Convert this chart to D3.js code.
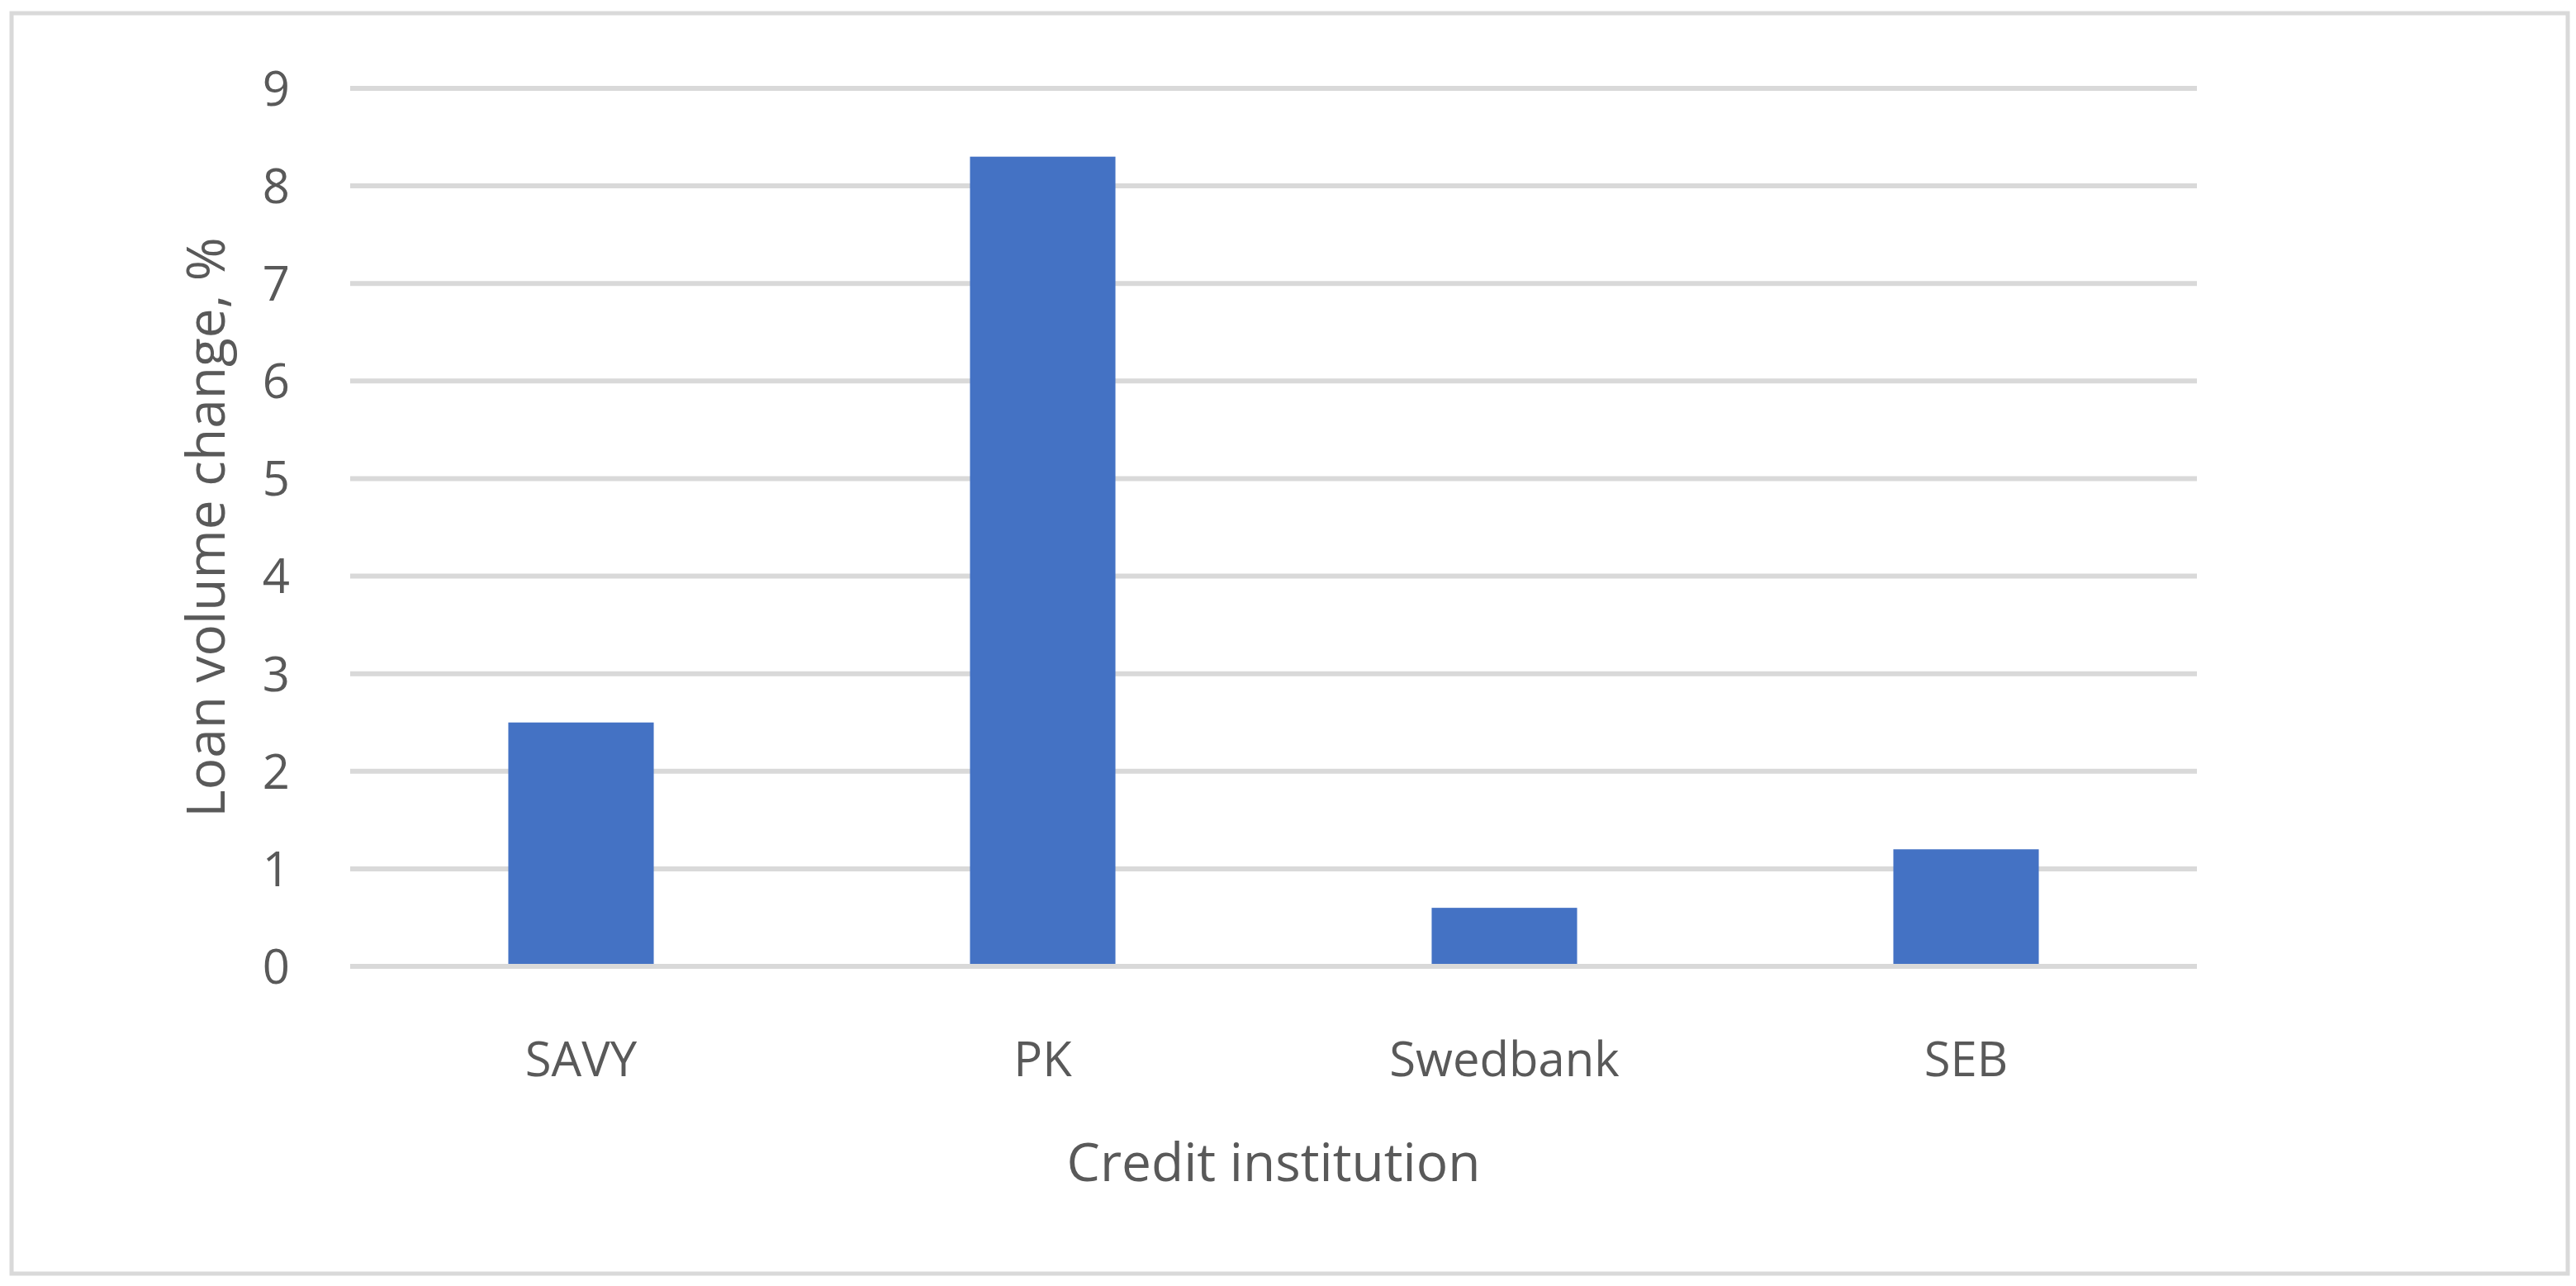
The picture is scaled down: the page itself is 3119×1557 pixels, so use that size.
<!DOCTYPE html>
<html>
<head>
<meta charset="utf-8">
<script src="https://cdn.jsdelivr.net/npm/d3@7"></script>
<style>
  body { margin: 0; background: #fff; }
  text { font-family: "Open Sans", sans-serif; fill: #595959; }
</style>
</head>
<body>
<svg id="chart" width="3119" height="1557"></svg>
<script>
// data
var categories = ['SAVY', 'PK', 'Swedbank', 'SEB'];
var values = [2.5, 8.3, 0.6, 1.2];
var yTicks = [0, 1, 2, 3, 4, 5, 6, 7, 8, 9];

var svg = d3.select('#chart');
var plotLeft = 424, plotRight = 2660, plotTop = 107, plotBottom = 1170;

svg.append('rect')
    .attr('x', 14).attr('y', 16)
    .attr('width', 3095).attr('height', 1526)
    .attr('fill', 'none').attr('stroke', '#d9d9d9').attr('stroke-width', 5);

var x = d3.scaleBand().domain(categories).range([plotLeft, plotRight]).paddingInner(0.685).paddingOuter(0.3425);
var y = d3.scaleLinear().domain([0, 9]).range([plotBottom, plotTop]);

// gridlines
svg.selectAll('line.grid')
    .data(yTicks)
  .enter().append('line').attr('class', 'grid')
    .attr('x1', plotLeft).attr('x2', plotRight)
    .attr('y1', function(d) { return y(d); })
    .attr('y2', function(d) { return y(d); })
    .attr('stroke', '#d9d9d9').attr('stroke-width', 6);

// bars
svg.selectAll('rect.bar')
    .data(values)
  .enter().append('rect').attr('class', 'bar')
    .attr('x', function(d, i) { return x(categories[i]); })
    .attr('width', x.bandwidth())
    .attr('y', function(d) { return y(d); })
    .attr('height', function(d) { return y(0) - y(d) - 3; })
    .attr('fill', '#4472c4');

// y tick labels
svg.selectAll('text.ytick')
    .data(yTicks)
  .enter().append('text').attr('class', 'ytick')
    .attr('x', 351)
    .attr('y', function(d) { return y(d); })
    .attr('dy', '0.36em')
    .attr('text-anchor', 'end')
    .attr('font-size', 58)
    .text(function(d) { return d; });

// category labels
svg.selectAll('text.xtick')
    .data(categories)
  .enter().append('text').attr('class', 'xtick')
    .attr('x', function(d) { return x(d) + x.bandwidth() / 2; })
    .attr('y', 1303)
    .attr('text-anchor', 'middle')
    .attr('font-size', 58)
    .text(function(d) { return d; });

svg.append('text')
    .attr('x', (plotLeft + plotRight) / 2).attr('y', 1430)
    .attr('text-anchor', 'middle')
    .attr('font-size', 64)
    .text('Credit institution');

svg.append('text')
    .attr('transform', 'translate(272,' + ((plotTop + plotBottom) / 2) + ') rotate(-90)')
    .attr('text-anchor', 'middle')
    .attr('font-size', 64)
    .text('Loan volume change, %');
</script>
</body>
</html>
